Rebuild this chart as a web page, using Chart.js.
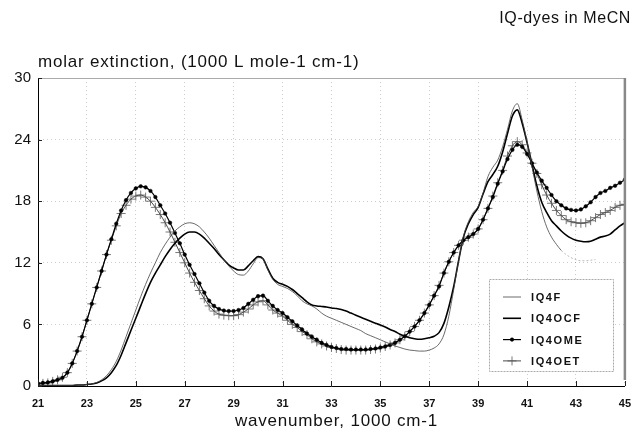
<!DOCTYPE html>
<html>
<head>
  <meta charset="utf-8">
  <title>IQ-dyes in MeCN</title>
  <style>
    body {
      margin: 0;
      background: #fff;
    }
    .chart-box {
      position: relative;
      width: 642px;
      height: 433px;
    }
  </style>
</head>
<body>
  <div class="chart-box">
    <canvas id="spectra"></canvas>
  </div>

  <script src="https://cdn.jsdelivr.net/npm/chart.js"></script>

  <script>
    // wavenumber, 1000 cm-1
    const wavenumbers = [
      21.0, 21.2, 21.4, 21.6, 21.8, 22.0, 22.2, 22.4, 22.6, 22.8,
      23.0, 23.2, 23.4, 23.6, 23.8, 24.0, 24.2, 24.4, 24.6, 24.8,
      25.0, 25.2, 25.4, 25.6, 25.8, 26.0, 26.2, 26.4, 26.6, 26.8,
      27.0, 27.2, 27.4, 27.6, 27.8, 28.0, 28.2, 28.4, 28.6, 28.8,
      29.0, 29.2, 29.4, 29.6, 29.8, 30.0, 30.2, 30.4, 30.6, 30.8,
      31.0, 31.2, 31.4, 31.6, 31.8, 32.0, 32.2, 32.4, 32.6, 32.8,
      33.0, 33.2, 33.4, 33.6, 33.8, 34.0, 34.2, 34.4, 34.6, 34.8,
      35.0, 35.2, 35.4, 35.6, 35.8, 36.0, 36.2, 36.4, 36.6, 36.8,
      37.0, 37.2, 37.4, 37.6, 37.8, 38.0, 38.2, 38.4, 38.6, 38.8,
      39.0, 39.2, 39.4, 39.6, 39.8, 40.0, 40.2, 40.4, 40.6, 40.8,
      41.0, 41.2, 41.4, 41.6, 41.8, 42.0, 42.2, 42.4, 42.6, 42.8,
      43.0, 43.2, 43.4, 43.6, 43.8, 44.0, 44.2, 44.4, 44.6, 44.8,
      45.0
    ];

    // molar extinction, 1000 L mole-1 cm-1
    const iq4f = [
      0.05, 0.05, 0.05, 0.05, 0.05, 0.05, 0.05, 0.05, 0.1, 0.1,
      0.15, 0.2, 0.35, 0.6, 1.0, 1.6, 2.4, 3.5, 4.8, 6.1,
      7.4, 8.7, 9.9, 11.0, 12.0, 13.0, 13.8, 14.5, 15.1, 15.5,
      15.8, 15.9, 15.8, 15.5, 15.0, 14.4, 13.7, 13.0, 12.3, 11.7,
      11.2, 10.85, 10.8, 11.2, 11.9, 12.5, 12.4, 11.3, 10.4, 9.9,
      9.7, 9.5, 9.2, 8.8, 8.3, 8.0, 7.8, 7.5, 7.1, 6.8,
      6.6, 6.4, 6.2, 6.0, 5.8, 5.6, 5.4, 5.1, 4.9, 4.7,
      4.5, 4.3, 4.1, 3.9, 3.75, 3.6, 3.5, 3.45, 3.4, 3.4,
      3.5, 3.7, 4.1, 5.0, 6.8, 9.4, 12.2, 14.6, 16.0, 16.9,
      17.5, 18.8, 20.4, 21.3, 22.0, 23.3, 25.0, 26.8, 27.5, 25.9,
      23.8, 21.4, 19.0, 17.0, 15.5, 14.5, 13.8, 13.2, 12.8, 12.5,
      12.3, 12.2, 12.2, 12.25, 12.3, null, null, null, null, null,
      null
    ];
    const iq4ocf = [
      0.05, 0.05, 0.05, 0.05, 0.05, 0.05, 0.05, 0.05, 0.1, 0.1,
      0.15, 0.2, 0.3, 0.5, 0.8, 1.3, 2.0, 3.0, 4.2, 5.4,
      6.6, 7.8, 9.0, 10.1, 11.0, 11.8, 12.6, 13.3, 13.9, 14.4,
      14.8, 15.0, 15.0, 14.8, 14.4, 13.9, 13.4, 12.8, 12.3, 11.8,
      11.5, 11.3, 11.3, 11.7, 12.2, 12.6, 12.4, 11.4, 10.5, 10.1,
      9.9, 9.7, 9.4, 9.0, 8.6, 8.2, 7.9, 7.8, 7.75, 7.7,
      7.6, 7.55, 7.45, 7.3, 7.1, 6.9, 6.7, 6.5, 6.3, 6.1,
      5.95, 5.75, 5.5, 5.3, 5.05, 4.85, 4.7, 4.6, 4.55, 4.6,
      4.7, 4.85, 5.2, 6.1, 7.7, 9.7, 12.2, 14.5, 15.8, 16.7,
      17.4, 18.7, 19.9, 20.6, 21.4, 22.8, 24.6, 26.3, 26.9, 25.6,
      23.7, 21.6, 19.5, 17.9, 16.9, 16.1, 15.6, 15.1, 14.7, 14.4,
      14.2, 14.1, 14.05, 14.1, 14.3, 14.5, 14.6, 14.8, 15.2, 15.6,
      15.9
    ];
    const iq4ome = [
      0.25, 0.3, 0.35, 0.45, 0.6, 0.8, 1.3, 2.2, 3.4, 4.8,
      6.4, 8.0, 9.6, 11.2, 12.8, 14.3, 15.8, 17.1, 18.1, 18.8,
      19.25, 19.45, 19.35, 19.0, 18.4, 17.6, 16.8, 15.9, 14.9, 13.9,
      12.8, 11.8, 10.9, 10.0, 9.1, 8.3, 7.8, 7.5, 7.35, 7.3,
      7.3, 7.4, 7.6, 8.0, 8.4, 8.75, 8.8, 8.3, 7.8, 7.4,
      7.1, 6.7, 6.3, 5.9, 5.5, 5.1, 4.8, 4.5, 4.2, 4.0,
      3.8, 3.7, 3.6, 3.6, 3.55, 3.55, 3.55, 3.55, 3.6, 3.65,
      3.75, 3.85, 4.0, 4.2, 4.5, 4.85, 5.3, 5.8, 6.4, 7.1,
      7.9, 8.8, 9.7, 11.0, 12.1, 13.0, 13.7, 14.2, 14.5, 14.8,
      15.3, 16.2, 17.3, 18.4, 19.7, 20.9, 22.1, 23.0, 23.5, 23.3,
      22.6, 21.7, 20.8, 20.0, 19.3, 18.6, 18.0, 17.6, 17.3, 17.15,
      17.1, 17.2, 17.5, 17.9, 18.4, 18.8, 19.0, 19.3, 19.5, 19.8,
      20.1
    ];
    const iq4oet = [
      0.2, 0.25, 0.3, 0.45, 0.6, 0.85, 1.3, 2.2, 3.4, 4.8,
      6.4, 8.0, 9.6, 11.2, 12.8, 14.2, 15.6, 16.8, 17.6, 18.2,
      18.5, 18.6, 18.4, 18.0, 17.4, 16.7, 15.9, 15.0, 14.0, 13.0,
      12.0, 11.0, 10.1, 9.3, 8.5, 7.8, 7.3, 7.0, 6.9, 6.85,
      6.85, 6.95, 7.2, 7.5, 7.9, 8.2, 8.3, 7.9, 7.4, 7.1,
      6.8, 6.4, 6.0, 5.7, 5.3, 5.0, 4.6, 4.3, 4.1, 3.9,
      3.75, 3.65, 3.55, 3.5, 3.5, 3.5, 3.5, 3.5, 3.55, 3.6,
      3.7, 3.85, 4.0, 4.2, 4.5, 4.85, 5.3, 5.8, 6.4, 7.1,
      7.9, 8.8, 9.8, 11.0, 12.1, 13.0, 13.7, 14.2, 14.5, 14.8,
      15.3, 16.2, 17.3, 18.5, 19.8, 21.0, 22.4, 23.4, 23.8, 23.5,
      22.7, 21.7, 20.7, 19.6, 18.6, 17.8, 17.1, 16.6, 16.2, 16.0,
      15.9, 15.85, 15.9, 16.1, 16.4, 16.7, 16.9, 17.1, 17.4, 17.6,
      17.7
    ];

    const xTicks = [21, 23, 25, 27, 29, 31, 33, 35, 37, 39, 41, 43, 45];
    const yTicks = [0, 6, 12, 18, 24, 30];

    const FONT = "'Liberation Sans', Arial, sans-serif";

    function toPoints(values) {
      return wavenumbers.map((x, i) => ({ x: x, y: values[i] }));
    }

    // frame, inner ticks, texts and the boxed legend
    const decorations = {
      id: 'decorations',
      afterDraw(chart) {
        const ctx = chart.ctx;
        const area = chart.chartArea;
        const xs = chart.scales.x;
        const ys = chart.scales.y;
        ctx.save();

        // top and right frame
        ctx.strokeStyle = '#aaa';
        ctx.lineWidth = 1;
        ctx.beginPath();
        ctx.moveTo(area.left, area.top + 0.5);
        ctx.lineTo(area.right, area.top + 0.5);
        ctx.stroke();
        ctx.strokeStyle = '#888';
        ctx.lineWidth = 2.5;
        ctx.beginPath();
        ctx.moveTo(area.right, area.top);
        ctx.lineTo(area.right, area.bottom - 6);
        ctx.stroke();

        // tick marks pointing inward
        ctx.strokeStyle = '#222';
        ctx.lineWidth = 1;
        ctx.beginPath();
        xTicks.forEach(v => {
          const px = Math.round(xs.getPixelForValue(v)) + 0.5;
          ctx.moveTo(px, area.bottom);
          ctx.lineTo(px, area.bottom - 5);
        });
        yTicks.forEach(v => {
          const py = Math.round(ys.getPixelForValue(v)) + 0.5;
          ctx.moveTo(area.left, py);
          ctx.lineTo(area.left + 4, py);
        });
        ctx.stroke();

        // texts
        ctx.fillStyle = '#111';
        ctx.textBaseline = 'middle';
        ctx.font = '16px ' + FONT;
        ctx.letterSpacing = '0.6px';
        ctx.textAlign = 'right';
        ctx.fillText('IQ-dyes in MeCN', 631, 19);
        ctx.font = '17px ' + FONT;
        ctx.letterSpacing = '0.8px';
        ctx.textAlign = 'left';
        ctx.fillText('molar extinction, (1000 L mole-1 cm-1)', area.left, 62);
        ctx.textAlign = 'center';
        ctx.fillText('wavenumber, 1000 cm-1', (area.left + area.right) / 2 + 5, 421);

        // legend
        const lx = 489.5, ly = 279.5, lw = 124, lh = 92;
        ctx.fillStyle = '#fff';
        ctx.fillRect(lx, ly, lw, lh);
        ctx.strokeStyle = '#aaa';
        ctx.lineWidth = 1;
        ctx.setLineDash([2, 1]);
        ctx.strokeRect(lx, ly, lw, lh);
        ctx.setLineDash([]);
        ctx.font = 'bold 11px ' + FONT;
        ctx.letterSpacing = '1.6px';
        ctx.textAlign = 'left';
        chart.data.datasets.forEach((ds, i) => {
          const cy = 297 + i * 21.3;
          ctx.strokeStyle = ds.borderColor;
          ctx.lineWidth = ds.borderWidth;
          ctx.beginPath();
          ctx.moveTo(503, cy);
          ctx.lineTo(521, cy);
          ctx.stroke();
          if (ds.pointRadius > 0) {
            ctx.strokeStyle = ds.pointBorderColor;
            ctx.fillStyle = ds.pointBackgroundColor;
            ctx.lineWidth = ds.pointBorderWidth;
            Chart.helpers.drawPoint(ctx, {
              pointStyle: ds.pointStyle,
              radius: ds.pointRadius,
              rotation: 0,
              borderWidth: ds.pointBorderWidth
            }, 512, cy);
          }
          ctx.fillStyle = '#111';
          ctx.fillText(ds.label, 531, cy + 1);
        });
        ctx.letterSpacing = '0px';
        ctx.restore();
      }
    };

    const ctx = document.getElementById('spectra').getContext('2d');

    new Chart(ctx, {
      type: 'line',
      data: {
        datasets: [
          {
            label: 'IQ4F',
            data: toPoints(iq4f),
            borderColor: '#444',
            borderWidth: 0.8,
            pointRadius: 0,
            cubicInterpolationMode: 'monotone',
            // the scan fades this trace out past 42.4
            segment: {
              borderColor: c => c.p0.parsed.x >= 42.4 ? '#aaa' : undefined,
              borderDash: c => c.p0.parsed.x >= 42.4 ? [2, 2] : undefined
            }
          },
          {
            label: 'IQ4OCF',
            data: toPoints(iq4ocf),
            borderColor: '#000',
            borderWidth: 1.6,
            pointRadius: 0,
            cubicInterpolationMode: 'monotone'
          },
          {
            label: 'IQ4OME',
            data: toPoints(iq4ome),
            borderColor: '#000',
            borderWidth: 1.2,
            pointStyle: 'circle',
            pointRadius: 1.8,
            pointBackgroundColor: '#000',
            pointBorderColor: '#000',
            pointBorderWidth: 0.5,
            cubicInterpolationMode: 'monotone'
          },
          {
            label: 'IQ4OET',
            data: toPoints(iq4oet),
            borderColor: '#333',
            borderWidth: 0.9,
            pointStyle: 'cross',
            pointRadius: 4.5,
            pointBackgroundColor: '#555',
            pointBorderColor: '#555',
            pointBorderWidth: 0.8,
            cubicInterpolationMode: 'monotone'
          }
        ]
      },
      options: {
        responsive: true,
        maintainAspectRatio: false,
        animation: false,
        spanGaps: false,
        layout: {
          padding: { top: 78, right: 9, left: 0, bottom: 0 }
        },
        plugins: {
          legend: { display: false },
          tooltip: { enabled: false }
        },
        scales: {
          x: {
            type: 'linear',
            min: 21,
            max: 45,
            afterBuildTicks: s => { s.ticks = xTicks.map(v => ({ value: v })); },
            afterFit: s => { s.height = 47; },
            border: { color: '#000', width: 1, dash: [1, 3] },
            grid: {
              drawTicks: false,
              color: 'rgba(0,0,0,0.2)',
              lineWidth: 1
            },
            ticks: {
              autoSkip: false,
              maxRotation: 0,
              padding: 11,
              color: '#111',
              font: { family: FONT, size: 11, weight: 'bold' }
            }
          },
          y: {
            min: 0,
            max: 30,
            afterBuildTicks: s => { s.ticks = yTicks.map(v => ({ value: v })); },
            afterFit: s => { s.width = 38; },
            border: { color: '#000', width: 1, dash: [1, 3] },
            grid: {
              drawTicks: false,
              color: 'rgba(0,0,0,0.2)',
              lineWidth: 1
            },
            ticks: {
              padding: 7,
              color: '#111',
              font: { family: FONT, size: 15 }
            }
          }
        }
      },
      plugins: [decorations]
    });
  </script>
</body>
</html>
